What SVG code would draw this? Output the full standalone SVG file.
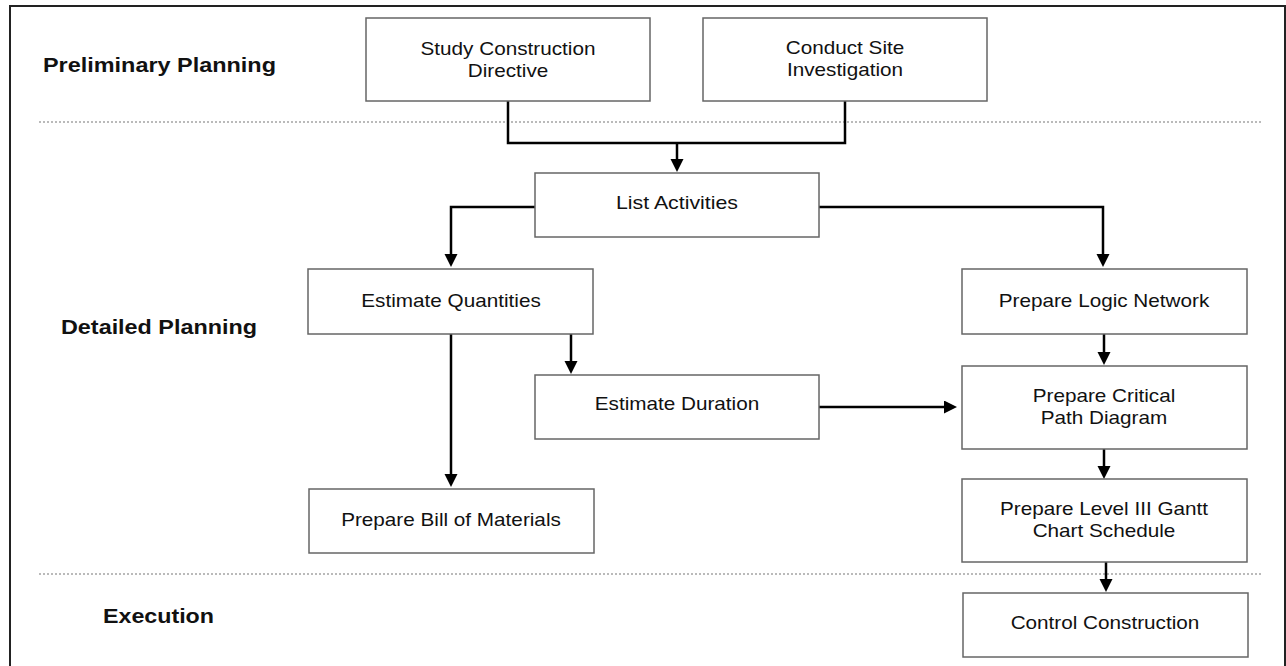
<svg xmlns="http://www.w3.org/2000/svg" width="1286" height="666" viewBox="0 0 1286 666">
<style>
.box{fill:#fff;stroke:#666;stroke-width:1.5}
.t{font-family:"Liberation Sans",Arial,sans-serif;font-size:18.5px;fill:#111;text-anchor:middle}
.lbl{font-family:"Liberation Sans",Arial,sans-serif;font-size:21px;font-weight:bold;fill:#111}
.c{fill:none;stroke:#000;stroke-width:2.5}
.a{marker-end:url(#arr)}
.dot{stroke:#777;stroke-width:1.2;stroke-dasharray:2 2}
</style>
<defs>
<marker id="arr" markerUnits="userSpaceOnUse" markerWidth="14" markerHeight="14" refX="1" refY="6.5" orient="auto">
<path d="M0,0 L13,6.5 L0,13 z" fill="#000"/>
</marker>
</defs>
<rect x="10" y="6" width="1275" height="680" fill="#fff" stroke="#222" stroke-width="2"/>
<g id="sections">
<line class="dot" x1="39" y1="122" x2="1262" y2="122"/>
<line class="dot" x1="39" y1="574" x2="1262" y2="574"/>
<text class="lbl" x="43" y="72" textLength="233" lengthAdjust="spacingAndGlyphs">Preliminary Planning</text>
<text class="lbl" x="61" y="334" textLength="196" lengthAdjust="spacingAndGlyphs">Detailed Planning</text>
<text class="lbl" x="103" y="623" textLength="111" lengthAdjust="spacingAndGlyphs">Execution</text>
</g>
<g id="connectors">
<polyline class="c" points="508,101 508,143 845,143 845,101"/>
<line class="c a" x1="677" y1="143" x2="677" y2="160"/>
<polyline class="c a" points="535,207 451,207 451,255"/>
<polyline class="c a" points="819,207 1103,207 1103,255"/>
<line class="c a" x1="451" y1="334" x2="451" y2="475"/>
<line class="c a" x1="571" y1="334" x2="571" y2="362"/>
<line class="c a" x1="819" y1="407" x2="945" y2="407"/>
<line class="c a" x1="1104" y1="334" x2="1104" y2="353"/>
<line class="c a" x1="1104" y1="449" x2="1104" y2="467"/>
<line class="c a" x1="1106" y1="562" x2="1106" y2="580"/>
</g>
<g id="study">
<rect class="box" x="366" y="18" width="284" height="83"/>
<text class="t" x="508" y="55" textLength="175" lengthAdjust="spacingAndGlyphs">Study Construction</text>
<text class="t" x="508" y="77" textLength="80.5" lengthAdjust="spacingAndGlyphs">Directive</text>
</g>
<g id="conduct">
<rect class="box" x="703" y="18" width="284" height="83"/>
<text class="t" x="845" y="54" textLength="118.5" lengthAdjust="spacingAndGlyphs">Conduct Site</text>
<text class="t" x="845" y="76" textLength="116" lengthAdjust="spacingAndGlyphs">Investigation</text>
</g>
<g id="list">
<rect class="box" x="535" y="173" width="284" height="64"/>
<text class="t" x="677" y="209" textLength="122" lengthAdjust="spacingAndGlyphs">List Activities</text>
</g>
<g id="quantities">
<rect class="box" x="308" y="269" width="285" height="65"/>
<text class="t" x="451" y="307" textLength="179.5" lengthAdjust="spacingAndGlyphs">Estimate Quantities</text>
</g>
<g id="logic">
<rect class="box" x="962" y="269" width="285" height="65"/>
<text class="t" x="1104" y="307" textLength="210.5" lengthAdjust="spacingAndGlyphs">Prepare Logic Network</text>
</g>
<g id="duration">
<rect class="box" x="535" y="375" width="284" height="64"/>
<text class="t" x="677" y="410" textLength="164.5" lengthAdjust="spacingAndGlyphs">Estimate Duration</text>
</g>
<g id="critical">
<rect class="box" x="962" y="366" width="285" height="83"/>
<text class="t" x="1104" y="402" textLength="142.6" lengthAdjust="spacingAndGlyphs">Prepare Critical</text>
<text class="t" x="1104" y="424" textLength="126.5" lengthAdjust="spacingAndGlyphs">Path Diagram</text>
</g>
<g id="bill">
<rect class="box" x="309" y="489" width="285" height="64"/>
<text class="t" x="451" y="526" textLength="219.7" lengthAdjust="spacingAndGlyphs">Prepare Bill of Materials</text>
</g>
<g id="gantt">
<rect class="box" x="962" y="479" width="285" height="83"/>
<text class="t" x="1104" y="515" textLength="208" lengthAdjust="spacingAndGlyphs">Prepare Level III Gantt</text>
<text class="t" x="1104" y="537" textLength="142.7" lengthAdjust="spacingAndGlyphs">Chart Schedule</text>
</g>
<g id="control">
<rect class="box" x="963" y="593" width="285" height="64"/>
<text class="t" x="1105" y="629" textLength="188.7" lengthAdjust="spacingAndGlyphs">Control Construction</text>
</g>
</svg>
